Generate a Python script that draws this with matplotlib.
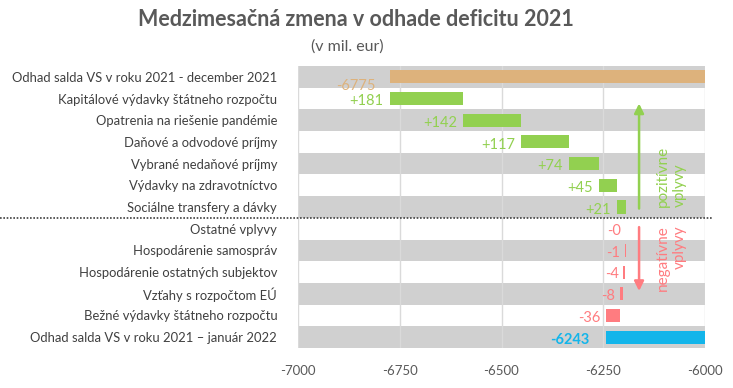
import matplotlib
matplotlib.use("Agg")
import matplotlib.pyplot as plt
import numpy as np
from matplotlib.transforms import blended_transform_factory

plt.rcParams['font.family'] = ['Lato', 'DejaVu Sans']

categories = [
    "Odhad salda VS v roku 2021 - december 2021",
    "Kapitálové výdavky štátneho rozpočtu",
    "Opatrenia na riešenie pandémie",
    "Daňové a odvodové príjmy",
    "Vybrané nedaňové príjmy",
    "Výdavky na zdravotníctvo",
    "Sociálne transfery a dávky",
    "Ostatné vplyvy",
    "Hospodárenie samospráv",
    "Hospodárenie ostatných subjektov",
    "Vzťahy s rozpočtom EÚ",
    "Bežné výdavky štátneho rozpočtu",
    "Odhad salda VS v roku 2021 – január 2022",
]
start_value = -6775
changes = [181, 142, 117, 74, 45, 21, -0.3, -1, -4, -8, -36]
change_labels = ["+181", "+142", "+117", "+74", "+45", "+21", "-0", "-1", "-4", "-8", "-36"]
end_value = -6243
xticks = [-7000, -6750, -6500, -6250, -6000]

c_orange = "#DDB27C"
c_green = "#92D050"
c_red = "#FF7C80"
c_blue = "#13B5EA"
c_band = "#D0D0D0"

fig = plt.figure(figsize=(7.33, 3.88), dpi=100)
ax = fig.add_axes([298/733, 1-348/388, 407/733, 282/388])
ax.set_xlim(-7000, -6000)
ax.set_ylim(12.5, -0.5)

n = len(categories)
for i in range(0, n, 2):
    ax.axhspan(i-0.5, i+0.5, color=c_band, lw=0, zorder=0)
for xv in xticks:
    ax.axvline(xv, color="#DADADA", lw=1, zorder=0.5)

h = 0.6
# start bar
ax.barh(0, start_value, left=0, height=h, color=c_orange, zorder=2)
ax.text(start_value - 35, 0.4, "-6775", ha="right", va="center", color=c_orange, fontsize=10.5, zorder=3)

cum = start_value
for k, (v, lab) in enumerate(zip(changes, change_labels)):
    y = k + 1
    new = cum + v
    lo, hi = min(cum, new), max(cum, new)
    col = c_green if v > 0 else c_red
    ax.barh(y, hi - lo, left=lo, height=h, color=col, zorder=2)
    if v > 0:
        ax.text(lo - 15, y + 0.12, lab, ha="right", va="center", color=col, fontsize=10.5, zorder=3)
    else:
        ax.text(lo - 12, y + 0.1, lab, ha="right", va="center", color=col, fontsize=10.5, zorder=3)
    cum = new

ax.barh(12, end_value, left=0, height=h, color=c_blue, zorder=2)
ax.text(end_value - 40, 12.15, "-6243", ha="right", va="center", color=c_blue, fontsize=10.5,
        fontweight="bold", zorder=3)

# arrows
ax.annotate("", xy=(-6162, 1.1), xytext=(-6162, 6.2),
            arrowprops=dict(arrowstyle="-|>", color=c_green, lw=1.8, mutation_scale=14), zorder=4)
ax.annotate("", xy=(-6162, 10.0), xytext=(-6162, 6.8),
            arrowprops=dict(arrowstyle="-|>", color=c_red, lw=1.8, mutation_scale=14), zorder=4)
ax.text(-6082, 6.0, "pozitívne\nvplyvy", rotation=90, ha="center", va="bottom",
        multialignment="left", color=c_green, fontsize=11, linespacing=1.25, zorder=4)
ax.text(-6082, 6.85, "negatívne\nvplyvy", rotation=90, ha="center", va="top",
        multialignment="right", color=c_red, fontsize=11, linespacing=1.25, zorder=4)

# dotted separator
tr = blended_transform_factory(ax.transAxes, ax.transData)
ax.plot([-298/407, (712-298)/407], [6.5, 6.5], transform=tr, color="#404040", lw=1.2,
        ls=(0, (1, 1)), clip_on=False, zorder=5)

ax.set_yticks(range(n))
ax.set_yticklabels(categories, fontsize=9.4, color="#404040")
ax.set_xticks(xticks)
ax.set_xticklabels([str(x) for x in xticks], fontsize=9.5, color="#595959")
ax.tick_params(axis="both", length=0)
ax.tick_params(axis="y", pad=15)
ax.tick_params(axis="x", pad=12)
for s in ax.spines.values():
    s.set_visible(False)

fig.text(356/733, 1-20/388, "Medzimesačná zmena v odhade deficitu 2021", ha="center", va="center",
         fontsize=15.5, fontweight="bold", color="#595959")
fig.text(347/733, 1-47/388, "(v mil. eur)", ha="center", va="center", fontsize=11.5, color="#595959")

fig.savefig("out.png", dpi=100)
